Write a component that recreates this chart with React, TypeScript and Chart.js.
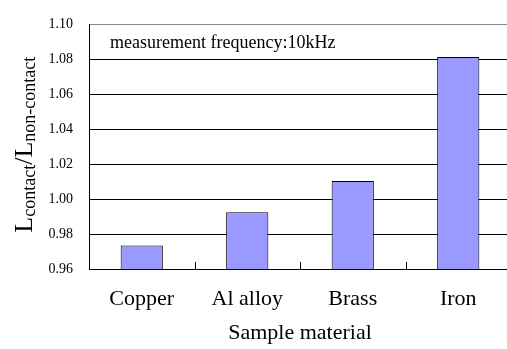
import React, { useEffect, useRef } from "react";
import { Chart, registerables } from "chart.js";

Chart.register(...registerables);

const categories = ["Copper", "Al alloy", "Brass", "Iron"];
const ratioValues = [0.9735, 0.9925, 1.0103, 1.0813];
const yMin = 0.96;
const yMax = 1.1;
const yStep = 0.02;
const annotationText = "measurement frequency:10kHz";
const xTitle = "Sample material";
const yTitleParts = [
  { text: "L", sub: false },
  { text: "contact", sub: true },
  { text: "/", sub: false },
  { text: "L", sub: false },
  { text: "non-contact", sub: true },
];

const FONT = '"Liberation Serif", "DejaVu Serif", serif';

const decorPlugin = {
  id: "decor",
  afterDraw(chart: any) {
    const ctx = chart.ctx;
    const area = chart.chartArea;
    const xs = chart.scales.x;
    ctx.save();
    ctx.strokeStyle = "#000";
    ctx.lineWidth = 1;
    const n = xs.ticks.length;
    for (let i = 1; i <= n; i++) {
      const next = i < n ? xs.getPixelForTick(i) : xs.getPixelForTick(i - 1) * 2 - xs.getPixelForTick(i - 2);
      const px = Math.round((xs.getPixelForTick(i - 1) + next) / 2) + 0.5;
      ctx.beginPath();
      ctx.moveTo(px, area.bottom);
      ctx.lineTo(px, area.bottom - 7);
      ctx.stroke();
    }
    ctx.fillStyle = "#000";
    ctx.font = `18px ${FONT}`;
    ctx.textAlign = "left";
    ctx.textBaseline = "alphabetic";
    ctx.fillText(annotationText, area.left + 21, area.top + 24);
    const big = `26px ${FONT}`;
    const small = `18px ${FONT}`;
    let total = 0;
    for (const p of yTitleParts) {
      ctx.font = p.sub ? small : big;
      total += ctx.measureText(p.text).width;
    }
    const cy = (area.top + area.bottom) / 2 - 2;
    ctx.translate(32, cy);
    ctx.rotate(-Math.PI / 2);
    let x = -total / 2;
    for (const p of yTitleParts) {
      ctx.font = p.sub ? small : big;
      ctx.fillText(p.text, x, p.sub ? 3 : 0);
      x += ctx.measureText(p.text).width;
    }
    ctx.restore();
  },
};

export default function App() {
  const ref = useRef<HTMLCanvasElement>(null);
  useEffect(() => {
    if (!ref.current) return;
    const chart = new Chart(ref.current, {
      type: "bar",
      data: {
        labels: categories,
        datasets: [
          {
            data: ratioValues,
            backgroundColor: "#9999FF",
            borderColor: "#000",
            borderWidth: 1,
            categoryPercentage: 1,
            barPercentage: 0.4,
          },
        ],
      },
      options: {
        animation: false,
        responsive: false,
        devicePixelRatio: 1,
        layout: { padding: { top: 13, right: 9, left: 0, bottom: 0 } },
        plugins: { legend: { display: false }, tooltip: { enabled: false }, title: { display: false } },
        scales: {
          x: {
            grid: { display: false, drawTicks: false },
            border: { display: true, color: "#000", width: 1 },
            ticks: { color: "#000", font: { family: FONT, size: 22 }, padding: 17 },
            title: {
              display: true,
              text: xTitle,
              color: "#000",
              font: { family: FONT, size: 22 },
              padding: { top: 0, bottom: 3 },
            },
            afterFit: (s: any) => {
              s.height = 80;
            },
          },
          y: {
            min: yMin,
            max: yMax,
            grid: {
              drawTicks: false,
              color: (c: any) => (Math.abs(c.tick.value - yMax) < 1e-6 ? "#888" : "#000"),
              lineWidth: 1,
            },
            border: { display: true, color: "#000", width: 1 },
            ticks: {
              stepSize: yStep,
              color: "#000",
              font: { family: FONT, size: 14 },
              padding: 16,
              callback: (v: any) => Number(v).toFixed(2),
            },
            afterFit: (s: any) => {
              s.width = 89;
            },
          },
        },
      },
      plugins: [decorPlugin],
    });
    let alive = true;
    if ((document as any).fonts && (document as any).fonts.load) {
      Promise.all([
        (document as any).fonts.load(`22px "Liberation Serif"`),
        (document as any).fonts.load(`14px "Liberation Serif"`),
      ]).then(() => {
        if (alive) chart.update();
      }).catch(() => {});
    }
    return () => {
      alive = false;
      chart.destroy();
    };
  }, []);
  return (
    <div style={{ position: "absolute", left: 0, top: 0, width: 507, height: 349, overflow: "hidden", background: "#fff" }}>
      <canvas ref={ref} width={520} height={349} style={{ width: 520, height: 349, display: "block" }} />
    </div>
  );
}
